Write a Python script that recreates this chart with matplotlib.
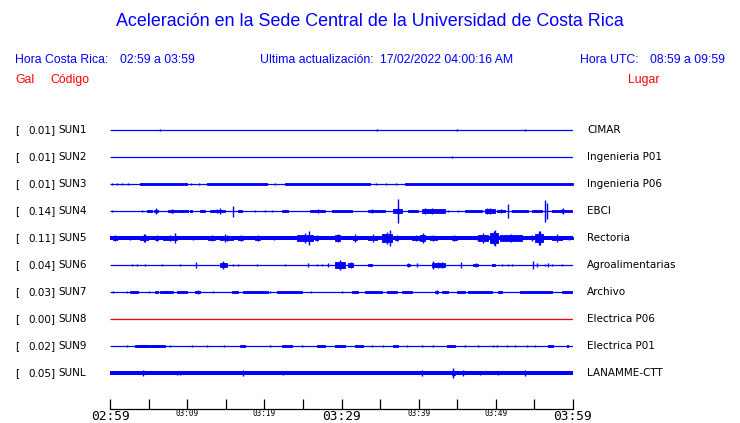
import matplotlib.pyplot as plt
from matplotlib.transforms import blended_transform_factory

# estaciones de la red de aceleracion (Sede Central UCR)
STATIONS = ["SUN1", "SUN2", "SUN3", "SUN4", "SUN5", "SUN6", "SUN7", "SUN8", "SUN9", "SUNL"]
GAL = ["0.01", "0.01", "0.01", "0.14", "0.11", "0.04", "0.03", "0.00", "0.02", "0.05"]
LUGARES = ["CIMAR", "Ingenieria P01", "Ingenieria P06", "EBCI", "Rectoria",
           "Agroalimentarias", "Archivo", "Electrica P06", "Electrica P01", "LANAMME-CTT"]
TRACE_COLORS = ["blue"] * 7 + ["red"] + ["blue"] * 2

# minutos desde las 02:59 (hora CR)
TICK_MIN = list(range(0, 61, 5))
TICK_LABELS = ["02:59", "", "03:09", "", "03:19", "", "03:29", "", "03:39", "", "03:49", "", "03:59"]
BIG_LABELS = ["02:59", "03:29", "03:59"]

# ancho base del trazo (semi-amplitud, px de pantalla)
BASE_AMP = [0, 0, 0, 0, 2.4, 0, 0, 0, 0, 2.2]

SUN1_EV = [(6.48, 6.48, 0.7), (21.38, 21.38, 0.4), (34.6, 34.6, 0.7), (44.97, 44.97, 1.0),
           (53.78, 53.78, 0.7)]
SUN2_EV = [(44.32, 44.32, 0.8)]
SUN3_EV = [(0.3, 0.3, 0.7), (0.9, 0.9, 0.7), (1.6, 1.6, 0.7), (2.3, 2.3, 0.7),
           (3.9, 9.98, 1.0), (10.5, 10.5, 0.7), (11.5, 11.5, 0.7), (12.57, 20.35, 1.0),
           (21.4, 21.4, 0.7), (22.68, 33.69, 1.0), (34.5, 34.5, 0.7), (35.8, 35.8, 0.7),
           (37.0, 37.0, 0.7), (38.23, 60.0, 1.0)]
SUN4_EV = [(0.30, 0.30, 1.0), (2.03, 2.03, 0.4), (3.9, 4.5, 0.7), (4.75, 5.4, 1.0),
           (5.75, 6.18, 2.0), (5.96, 5.96, 2.7), (7.47, 8.64, 1.5), (7.99, 7.99, 2.3),
           (8.86, 10.15, 1.0), (10.37, 10.58, 1.0), (11.66, 12.31, 1.0), (12.96, 14.90, 1.7),
           (14.26, 14.26, 2.7), (15.98, 15.98, 5.5), (16.63, 17.15, 1.3), (18.79, 18.79, 0.7),
           (20.09, 20.09, 0.7), (20.95, 20.95, 0.7), (22.25, 23.11, 1.3), (25.92, 27.86, 1.7),
           (28.73, 31.32, 1.3), (33.48, 35.64, 1.3), (33.91, 33.91, 2.0), (36.72, 37.80, 3.3),
           (37.37, 37.37, 12.3), (38.66, 39.96, 1.3), (40.39, 43.42, 2.0), (40.82, 40.82, 3.3),
           (41.69, 41.69, 2.7), (43.85, 43.85, 0.7), (45.14, 45.14, 0.7), (46.01, 48.17, 1.3),
           (48.60, 49.90, 2.7), (48.82, 48.82, 3.3), (50.11, 51.19, 2.0), (51.62, 51.62, 7.0),
           (52.06, 54.22, 1.3), (54.65, 55.94, 1.3), (56.38, 56.38, 11.0), (56.59, 56.59, 8.3),
           (57.24, 59.83, 1.7), (58.75, 58.75, 2.7)]
SUN5_EV = [(0.0, 1.94, 2.3), (0.43, 0.86, 3.0), (1.94, 3.24, 2.0), (3.89, 4.97, 3.7),
           (4.54, 4.54, 4.0), (5.83, 6.26, 2.7), (6.91, 8.64, 3.0), (8.42, 8.42, 4.7),
           (10.8, 10.8, 2.3), (12.74, 13.61, 3.3), (14.26, 15.98, 3.0), (14.9, 14.9, 3.7),
           (16.63, 17.28, 3.0), (18.79, 19.44, 2.7), (20.95, 21.6, 2.0), (24.19, 26.35, 5.0),
           (25.83, 25.83, 6.7), (26.57, 27.0, 3.0), (29.16, 29.81, 4.0), (31.54, 31.97, 3.7),
           (33.48, 34.56, 3.7), (35.21, 36.5, 5.7), (36.29, 36.29, 8.3), (36.94, 37.37, 3.3),
           (39.1, 40.18, 3.3), (40.18, 40.82, 4.7), (41.47, 42.34, 2.7), (44.28, 44.93, 3.3),
           (47.3, 47.74, 2.0), (47.74, 49.03, 5.0), (49.25, 50.33, 7.0), (49.9, 49.9, 8.3),
           (50.54, 53.35, 4.0), (54.65, 54.65, 2.7), (55.08, 56.16, 6.7), (55.73, 55.73, 7.3),
           (57.24, 58.54, 3.7), (58.97, 60.0, 2.0)]
SUN6_EV = [(2.81, 2.81, 1.3), (3.46, 3.46, 1.3), (4.54, 4.54, 0.7), (6.05, 6.05, 0.3),
           (6.70, 6.70, 1.3), (9.07, 9.07, 1.3), (11.1, 11.1, 2.7), (14.26, 15.12, 3.3),
           (14.69, 14.69, 4.0), (15.98, 15.98, 1.3), (16.63, 16.63, 1.3), (19.0, 19.0, 1.3),
           (22.68, 22.68, 1.0), (25.7, 25.7, 2.3), (26.78, 26.78, 1.3), (27.43, 27.43, 1.0),
           (28.2, 28.2, 1.7), (29.16, 30.46, 4.3), (29.81, 29.81, 4.7), (30.89, 31.54, 3.3),
           (33.48, 33.91, 1.3), (35.64, 35.64, 0.3), (38.45, 38.88, 1.7), (39.74, 39.74, 1.7),
           (41.69, 43.42, 3.3), (41.9, 41.9, 4.0), (42.98, 42.98, 3.3), (45.49, 45.49, 2.7),
           (47.09, 47.74, 2.0), (49.46, 49.9, 1.3), (50.76, 50.76, 1.0), (51.62, 51.62, 1.0),
           (52.06, 52.06, 1.0), (54.86, 54.86, 4.0), (55.3, 55.3, 2.0), (56.38, 56.38, 1.3),
           (56.81, 56.81, 1.7), (57.24, 57.24, 1.3), (58.54, 58.54, 1.0)]
SUN7_EV = [(0.43, 0.43, 1.0), (2.16, 2.16, 1.0), (2.59, 3.67, 1.3), (5.1, 5.1, 0.7),
           (5.83, 6.26, 1.0), (6.48, 8.21, 1.3), (8.64, 9.94, 1.0), (11.02, 11.66, 1.7),
           (13.39, 13.39, 0.7), (15.77, 16.63, 1.0), (17.28, 20.52, 1.3), (20.74, 20.74, 0.7),
           (21.6, 24.84, 1.3), (26.05, 26.05, 0.7), (30.02, 30.02, 1.0), (31.32, 32.18, 1.0),
           (33.05, 35.21, 1.3), (35.86, 37.15, 1.3), (37.8, 39.1, 1.0), (42.12, 42.55, 2.0),
           (42.98, 43.85, 1.3), (44.93, 46.01, 1.3), (46.44, 49.46, 1.0), (50.33, 50.76, 1.0),
           (53.14, 57.24, 1.5), (58.54, 59.83, 1.0)]
SUN8_EV = []
SUN9_EV = [(2.16, 2.16, 0.7), (3.24, 7.13, 0.7), (3.89, 4.97, 1.0), (5.4, 6.48, 1.0),
           (7.78, 7.78, 0.7), (10.58, 10.58, 0.7), (12.53, 12.53, 0.7), (14.26, 15.34, 0.7),
           (16.11, 18.79, 0.7), (16.85, 17.5, 1.0), (20.74, 20.74, 0.7), (22.25, 23.54, 1.0),
           (24.84, 24.84, 0.7), (26.78, 27.86, 0.8), (29.16, 30.46, 1.0), (31.75, 32.83, 1.0),
           (33.48, 34.34, 0.7), (35.42, 35.42, 0.7), (36.72, 37.37, 1.0), (38.45, 38.45, 0.7),
           (39.96, 40.82, 0.7), (41.9, 41.9, 1.0), (43.63, 44.71, 1.0), (46.01, 46.01, 0.7),
           (47.74, 47.74, 0.7), (49.68, 49.68, 0.7), (50.11, 50.11, 0.7), (51.41, 51.41, 0.7),
           (52.49, 52.49, 0.7), (54.0, 54.0, 0.7), (55.08, 55.08, 0.7), (56.81, 57.46, 1.0),
           (59.18, 59.4, 1.0)]
SUNL_EV = [(4.32, 4.32, 2.6), (8.64, 8.64, 2.4), (9.07, 9.07, 2.4), (17.28, 17.28, 2.6),
           (22.46, 22.46, 2.4), (40.39, 40.39, 2.6), (44.28, 44.71, 3.5), (44.5, 44.5, 4.7),
           (45.79, 45.79, 2.9), (47.95, 47.95, 2.4), (50.33, 50.33, 2.4), (53.78, 53.78, 2.9)]
EVENTS = [SUN1_EV, SUN2_EV, SUN3_EV, SUN4_EV, SUN5_EV, SUN6_EV, SUN7_EV, SUN8_EV, SUN9_EV, SUNL_EV]

W, H = 740, 423
SPACING_PX = 27.0
BLUE, RED = "#0000ff", "#ff0000"


def fx(px):
    return px / W


def fy(px):
    return 1 - px / H


fig = plt.figure(figsize=(W / 100, H / 100), dpi=100)
fig.patch.set_facecolor("white")

# zona de trazas: eje x en 110-573 px, linea de tiempo en y=409 px
ax = fig.add_axes([fx(110), fy(409), fx(573) - fx(110), fy(115) - fy(409)])
ax.set_xlim(0, 60)
ax.set_ylim((409 - 130) / SPACING_PX, (115 - 130) / SPACING_PX)

for i, (ev, color) in enumerate(zip(EVENTS, TRACE_COLORS)):
    ax.hlines(i, 0, 60, color=color, lw=0.9)
    if BASE_AMP[i] > 0:
        a = BASE_AMP[i] / SPACING_PX
        ax.fill_between([0, 60], i - a, i + a, color=color, lw=0)
    for t0, t1, amp in ev:
        a = amp / SPACING_PX
        if t1 - t0 >= 3:
            # ruido continuo: banda casi plana
            ax.fill_between([t0, t1], i - 0.9 * a, i + 0.9 * a, color=color, lw=0.6, edgecolor=color)
        elif t1 > t0:
            # rafaga corta: bloque con pico central
            ax.fill_between([t0, t1], i - 0.65 * a, i + 0.65 * a, color=color, lw=0.6, edgecolor=color)
            ax.vlines((t0 + t1) / 2, i - a, i + a, color=color, lw=1.0)
        else:
            ax.vlines(t0, i - a, i + a, color=color, lw=1.0)

for s in ["top", "left", "right"]:
    ax.spines[s].set_visible(False)
ax.spines["bottom"].set_linewidth(0.9)
ax.set_yticks([])
ax.set_xticks(TICK_MIN)
ax.set_xticklabels(TICK_LABELS, family="DejaVu Sans Mono")
ax.tick_params(axis="x", direction="in", length=7, width=0.9, pad=0.5)
for lbl in ax.get_xticklabels():
    if lbl.get_text() in BIG_LABELS:
        lbl.set_fontsize(9.3)
    else:
        lbl.set_fontsize(5.5)
        lbl.set_y(0.004)

# etiquetas de cada traza
tr = blended_transform_factory(fig.transFigure, ax.transData)
for i in range(len(STATIONS)):
    ax.text(fx(15), i, "[", transform=tr, fontsize=7.5, va="center", ha="left")
    ax.text(fx(55.5), i, GAL[i] + "]", transform=tr, fontsize=7.5, va="center", ha="right")
    ax.text(fx(58), i, STATIONS[i], transform=tr, fontsize=7.5, va="center", ha="left")
    ax.text(fx(587), i, LUGARES[i], transform=tr, fontsize=7.5, va="center", ha="left")

# encabezado
hdr = dict(family="Liberation Sans", fontsize=8.8, va="center", ha="left")
fig.text(0.5, fy(21), "Aceleración en la Sede Central de la Universidad de Costa Rica",
         family="Liberation Sans", fontsize=12.9, color=BLUE, ha="center", va="center")
fig.text(fx(15), fy(60), "Hora Costa Rica:", color=BLUE, **hdr)
fig.text(fx(120), fy(60), "02:59 a 03:59", color=BLUE, **hdr)
fig.text(fx(260), fy(60), "Ultima actualización:", color=BLUE, **hdr)
fig.text(fx(380), fy(60), "17/02/2022 04:00:16 AM", color=BLUE, **hdr)
fig.text(fx(580), fy(60), "Hora UTC:", color=BLUE, **hdr)
fig.text(fx(650), fy(60), "08:59 a 09:59", color=BLUE, **hdr)
fig.text(fx(15), fy(80), "Gal", color=RED, **hdr)
fig.text(fx(50), fy(80), "Código", color=RED, **hdr)
fig.text(fx(628), fy(80), "Lugar", color=RED, **hdr)

fig.savefig("out.png", dpi=100, facecolor="white")
